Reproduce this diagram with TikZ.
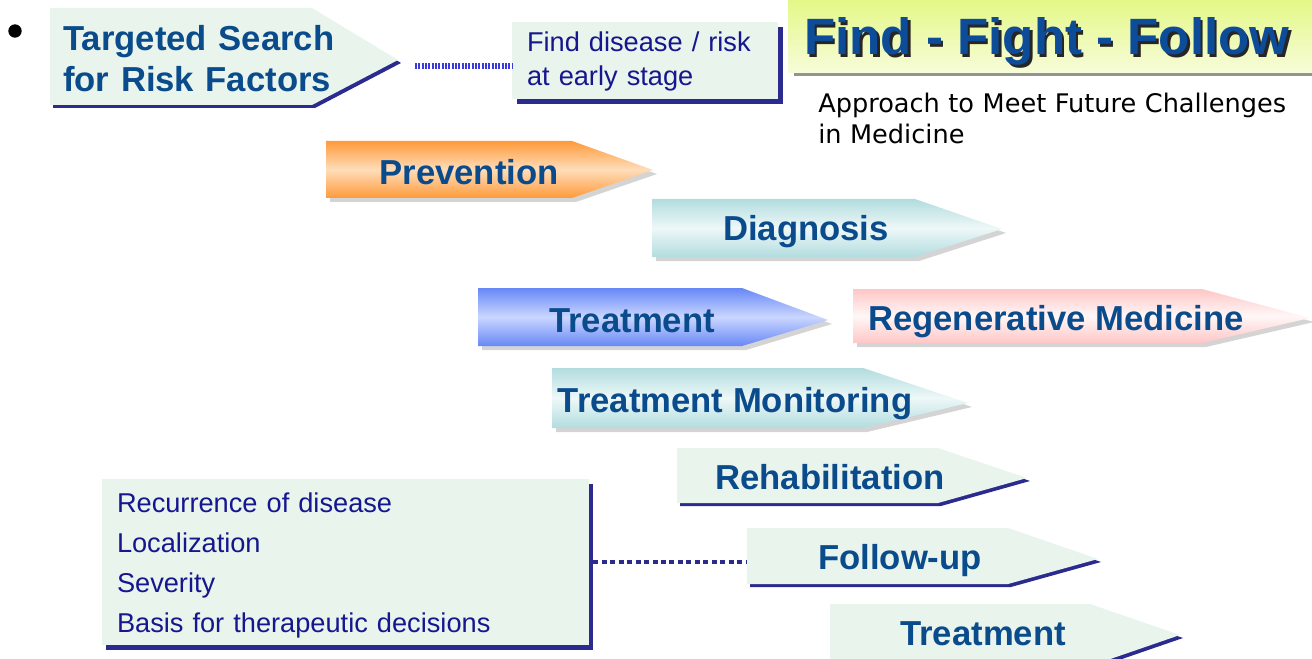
\documentclass[tikz,border=0pt]{standalone}
\usepackage{fontspec}
\setmainfont{Liberation Sans}
\newfontfamily\verdana{DejaVu Sans}
\usetikzlibrary{shadows}
\definecolor{labelblue}{HTML}{0A4B8C}
\definecolor{titleblue}{HTML}{0C4C98}
\definecolor{boxnavy}{HTML}{2B2B8F}
\definecolor{textnavy}{HTML}{16168E}
\definecolor{linkblue}{HTML}{3A3AE0}
\definecolor{mint}{HTML}{E8F4EC}
\definecolor{shadowgrey}{HTML}{D4D4D4}
\definecolor{orangeedge}{HTML}{FF9A3A}
\definecolor{orangemid}{HTML}{FFDDBA}
\definecolor{tealedge}{HTML}{B2DCDF}
\definecolor{tealmid}{HTML}{EEF8F8}
\definecolor{blueedge}{HTML}{6788F6}
\definecolor{bluemid}{HTML}{CAD6FF}
\definecolor{pinkedge}{HTML}{FFC6C6}
\definecolor{pinkmid}{HTML}{FFF7F7}
\definecolor{limetop}{HTML}{E4F888}
\definecolor{limebottom}{HTML}{F7FCDA}
\tikzset{
	stagetext/.style = {inner sep=0pt, text=labelblue, font=\fontsize{26}{31.5}\selectfont\bfseries},
	notebox/.style = {fill=mint, inner xsep=11.25pt, inner ysep=0pt, align=left, text=textnavy},
	greyshadow/.style = {fill=shadowgrey},
	navyshadow/.style = {fill=boxnavy},
	mintarrow/.style = {fill=mint},
	orangearrow/.style = {top color=orangeedge, bottom color=orangeedge, middle color=orangemid},
	tealarrow/.style = {top color=tealedge, bottom color=tealedge, middle color=tealmid},
	bluearrow/.style = {top color=blueedge, bottom color=blueedge, middle color=bluemid},
	pinkarrow/.style = {top color=pinkedge, bottom color=pinkedge, middle color=pinkmid},
	toplink/.style = {linkblue, line width=4.5pt, dash pattern=on 1.5pt off 1pt},
	bottomlink/.style = {boxnavy, line width=2.6pt, dash pattern=on 3.75pt off 2.6pt}
}
\begin{document}
\begin{tikzpicture}[x=0.75pt, y=-0.75pt]
\useasboundingbox (0,0) rectangle (1312,659);

% title
\fill[gray!85] (794,4) rectangle (1312,76);
\shade[top color=limetop, bottom color=limebottom] (788,0) rectangle (1312,73);
\node[inner sep=0pt, anchor=base west, text=black!85, font=\fontsize{38.3}{40}\selectfont\bfseries] (titleshadow) at (806.5,57.5) {Find - Fight - Follow};
\node[inner sep=0pt, anchor=base west, text=titleblue, font=\fontsize{38.3}{40}\selectfont\bfseries] (title) at (804,55) {Find - Fight - Follow};
\node[inner sep=0pt, anchor=base west, text width=400pt, align=left, font=\verdana\fontsize{19.2}{23}\selectfont] (approach) at (818,113) {Approach to Meet Future Challenges\\in Medicine};

% bullet and search arrow
\fill (15,31) circle (5pt);
\fill[navyshadow, shift={(3,3)}] (50,8) -- (312,8) -- (398,60) -- (312,105) -- (50,105) -- cycle;
\fill[mintarrow] (50,8) -- (312,8) -- (398,60) -- (312,105) -- (50,105) -- cycle;
\node[stagetext, anchor=base west, text width=250pt, align=left, font=\fontsize{26}{30.75}\selectfont\bfseries] (search) at (63,51) {Targeted Search\\for Risk Factors};
\coordinate (search end) at (415,66);

\node[notebox, minimum width=199.5pt, minimum height=57.75pt, text width=177pt,
	font=\fontsize{20.4}{25.5}\selectfont,
	drop shadow={shadow xshift=3.75pt, shadow yshift=-3.75pt, fill=boxnavy, opacity=1}] (early) at (645,60.5) {\rule{0pt}{16pt}Find disease / risk\\at early stage};
\draw[toplink] (search end) -- (search end -| early.west);

% stages
\fill[greyshadow, shift={(4,4)}] (326,141) -- (572,141) -- (653,170) -- (572,198) -- (326,198) -- cycle;
\shade[orangearrow] (326,141) -- (572,141) -- (653,170) -- (572,198) -- (326,198) -- cycle;
\node[stagetext, anchor=base] (prevention) at (469,185) {Prevention};

\fill[greyshadow, shift={(4,4)}] (652,199) -- (915,199) -- (1002,229) -- (915,257) -- (652,257) -- cycle;
\shade[tealarrow] (652,199) -- (915,199) -- (1002,229) -- (915,257) -- (652,257) -- cycle;
\node[stagetext, anchor=base] (diagnosis) at (806,241) {Diagnosis};

\fill[greyshadow, shift={(4,4)}] (478,288) -- (742,288) -- (828,320) -- (742,346) -- (478,346) -- cycle;
\shade[bluearrow] (478,288) -- (742,288) -- (828,320) -- (742,346) -- (478,346) -- cycle;
\node[stagetext, anchor=base] (treatment) at (632,332) {Treatment};

\fill[greyshadow, shift={(4,4)}] (853,289) -- (1202,289) -- (1310,318) -- (1202,343) -- (853,343) -- cycle;
\shade[pinkarrow] (853,289) -- (1202,289) -- (1310,318) -- (1202,343) -- (853,343) -- cycle;
\node[stagetext, anchor=base] (regenerative) at (1056,330) {Regenerative Medicine};

\fill[greyshadow, shift={(4,4)}] (552,368) -- (863,368) -- (968,403) -- (863,428) -- (552,428) -- cycle;
\shade[tealarrow] (552,368) -- (863,368) -- (968,403) -- (863,428) -- (552,428) -- cycle;
\node[stagetext, anchor=base] (monitoring) at (735,412) {Treatment Monitoring};

\fill[navyshadow, shift={(3,3)}] (677,448) -- (938,448) -- (1027,478) -- (938,503) -- (677,503) -- cycle;
\fill[mintarrow] (677,448) -- (938,448) -- (1027,478) -- (938,503) -- (677,503) -- cycle;
\node[stagetext, anchor=base] (rehabilitation) at (830,489) {Rehabilitation};

\fill[navyshadow, shift={(3,3)}] (747,528) -- (1008,528) -- (1098,559) -- (1008,584) -- (747,584) -- cycle;
\fill[mintarrow] (747,528) -- (1008,528) -- (1098,559) -- (1008,584) -- (747,584) -- cycle;
\node[stagetext, anchor=base] (followup) at (900,569) {Follow-up};
\coordinate (followup start) at (747,562);

\fill[navyshadow, shift={(3,3)}] (830,604) -- (1090,604) -- (1180,635) -- (1090,666) -- (830,666) -- cycle;
\fill[mintarrow] (830,604) -- (1090,604) -- (1180,635) -- (1090,666) -- (830,666) -- cycle;
\node[stagetext, anchor=base] (treatment2) at (983,645) {Treatment};

% follow-up details
\node[notebox, minimum width=365.25pt, minimum height=124.5pt, text width=342.75pt,
	font=\fontsize{20.4}{30}\selectfont,
	drop shadow={shadow xshift=3pt, shadow yshift=-3.75pt, fill=boxnavy, opacity=1}] (details) at (345.5,562) {\rule{0pt}{20pt}Recurrence of disease\\Localization\\Severity\\Basis for therapeutic decisions};
\draw[bottomlink] ([xshift=3pt]details.east |- followup start) -- (followup start);
\end{tikzpicture}
\end{document}
